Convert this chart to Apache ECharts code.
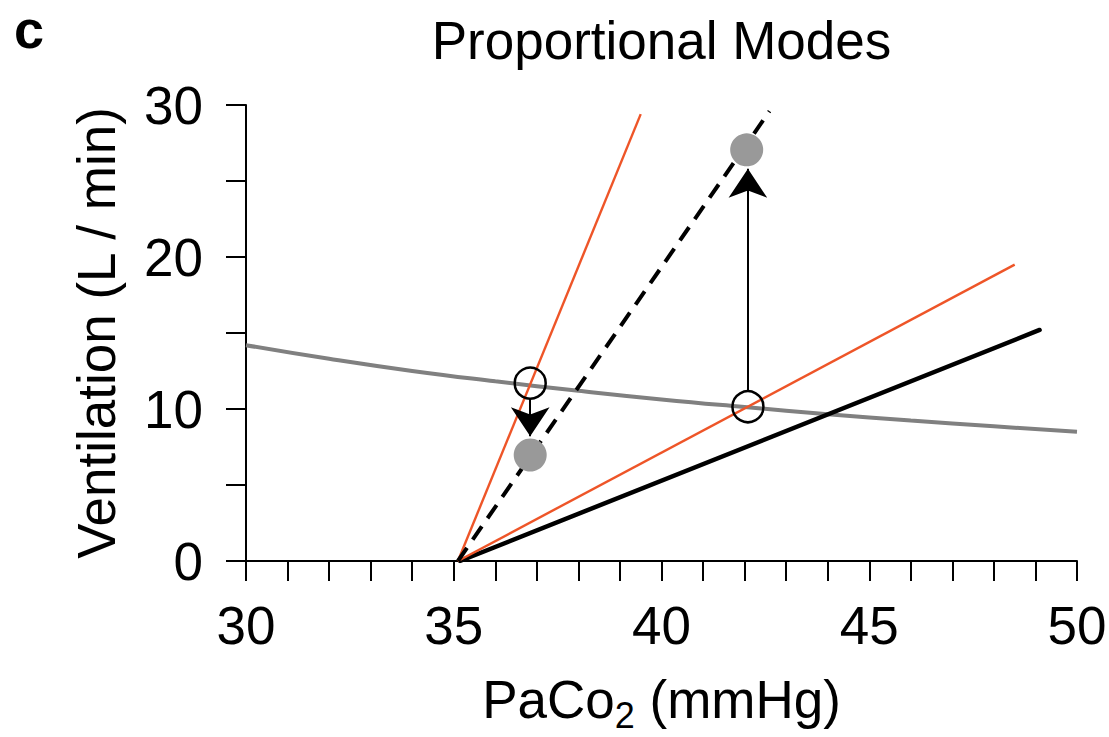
<!DOCTYPE html>
<html><head><meta charset="utf-8">
<script src="https://cdn.jsdelivr.net/npm/echarts@6/dist/echarts.min.js"></script>
<style>html,body{margin:0;padding:0;background:#fff}#c{width:1109px;height:737px}</style>
</head><body><div id="c"></div>
<script>
const FONT = '"Liberation Sans", Arial, Helvetica, sans-serif';

// Metabolic hyperbola (gray curve)
const curveX = [30, 32, 34, 36, 38, 40, 42, 44, 46, 48, 50];
const curveY = [14.2, 13.3, 12.5, 11.82, 11.2, 10.63, 10.13, 9.66, 9.24, 8.86, 8.5];

// Straight response lines [x, y] endpoints
const orangeSteep   = [[35.1, 0], [39.5, 29.4]];
const orangeShallow = [[35.1, 0], [48.5, 19.5]];
const blackLine     = [[35.15, 0], [49.1, 15.2]];
const dashedLine    = [[35.1, 0], [42.6, 29.6]];

// Points
const openPoints   = [[36.84, 11.7], [42.08, 10.15]];
const filledPoints = [[36.84, 6.97], [42.05, 27.05]];

// Arrows: [start, end]
const arrows = [
  [[36.84, 10.66], [36.84, 8.2]],
  [[42.08, 11.18], [42.08, 25.8]]
];

const xLabelEvery = 5;
const yLabelEvery = 10;

const ORANGE = '#EE5528';
const chart = echarts.init(document.getElementById('c'), null, {renderer: 'svg'});

chart.setOption({
  animation: false,
  backgroundColor: '#fff',
  title: {
    text: 'Proportional Modes',
    left: 661.5, top: 14, textAlign: 'center', padding: 0,
    textStyle: {fontFamily: FONT, fontSize: 53, fontWeight: 'normal', color: '#000'}
  },
  graphic: [{
    type: 'text', left: 14, top: 2,
    style: {text: 'c', font: 'bold 54px ' + FONT, fill: '#000'}
  }],
  grid: {left: 246, right: 32, top: 105, bottom: 176, containLabel: false, outerBoundsMode: 'none'},
  xAxis: {
    type: 'value', min: 30, max: 50, interval: 1,
    splitLine: {show: false},
    axisLine: {lineStyle: {color: '#000', width: 2}},
    axisTick: {length: 20, lineStyle: {color: '#000', width: 2}},
    axisLabel: {
      formatter: v => (v % xLabelEvery === 0 ? String(v) : ''),
      fontFamily: FONT, fontSize: 53, color: '#000', margin: 38
    },
    name: '{m|PaCo}{sub|2}{m| (mmHg)}',
    nameLocation: 'middle', nameGap: 112,
    nameTextStyle: {
      fontFamily: FONT, fontSize: 53, color: '#000',
      rich: {
        m: {fontFamily: FONT, fontSize: 53, lineHeight: 53, color: '#000', verticalAlign: 'top'},
        sub: {fontFamily: FONT, fontSize: 36, lineHeight: 36, color: '#000', verticalAlign: 'top', padding: [24, 0, 0, 0]}
      }
    }
  },
  yAxis: {
    type: 'value', min: 0, max: 30, interval: 5,
    splitLine: {show: false},
    axisLine: {lineStyle: {color: '#000', width: 2}},
    axisTick: {length: 20, lineStyle: {color: '#000', width: 2}},
    axisLabel: {
      formatter: v => (v % yLabelEvery === 0 ? String(v) : ''),
      fontFamily: FONT, fontSize: 53, color: '#000', margin: 43
    },
    name: 'Ventilation (L / min)',
    nameLocation: 'middle', nameGap: 123,
    nameTextStyle: {fontFamily: FONT, fontSize: 53, color: '#000'}
  },
  series: [
    {
      type: 'line', name: 'curve', smooth: true, symbol: 'none', z: 1,
      data: curveX.map((x, i) => [x, curveY[i]]),
      lineStyle: {color: '#808080', width: 4}
    },
    {
      type: 'line', name: 'black', symbol: 'none', z: 2, data: blackLine,
      lineStyle: {color: '#000', width: 4.5, cap: 'round'}
    },
    {
      type: 'line', name: 'orangeShallow', symbol: 'none', z: 2, data: orangeShallow,
      lineStyle: {color: ORANGE, width: 2.4}
    },
    {
      type: 'line', name: 'orangeSteep', symbol: 'none', z: 2, data: orangeSteep,
      lineStyle: {color: ORANGE, width: 2.4}
    },
    {
      type: 'line', name: 'dashed', symbol: 'none', z: 2, data: dashedLine,
      lineStyle: {color: '#000', width: 4, type: [16, 10]}
    },
    {
      type: 'lines', coordinateSystem: 'cartesian2d', z: 3,
      symbol: ['none', 'arrow'], symbolSize: 29,
      data: arrows.map(a => ({coords: a})),
      lineStyle: {color: '#000', width: 2, opacity: 1}
    },
    {
      type: 'scatter', name: 'filled', z: 4, symbol: 'circle', symbolSize: 33,
      data: filledPoints,
      itemStyle: {color: '#999999', opacity: 1}
    },
    {
      type: 'scatter', name: 'open', z: 5, symbol: 'circle', symbolSize: 31,
      data: openPoints,
      itemStyle: {color: 'rgba(0,0,0,0)', borderColor: '#000', borderWidth: 2.5, opacity: 1}
    }
  ]
});
</script>
</body></html>
